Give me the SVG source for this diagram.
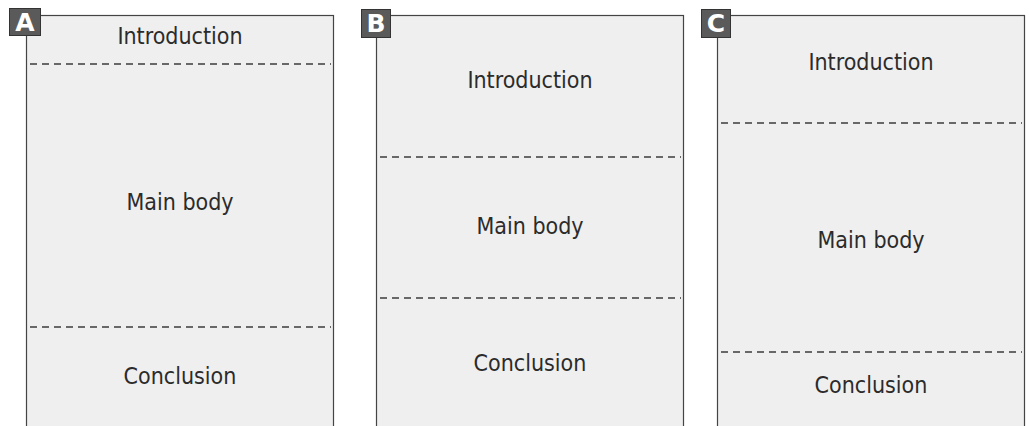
<svg xmlns="http://www.w3.org/2000/svg" width="1029" height="426" viewBox="0 0 1029 426">
<style>
.box{fill:#efefef;stroke:#444444;stroke-width:1.2}
.dash{stroke:#3c3c3c;stroke-width:1.6;stroke-dasharray:7 5;fill:none}
.lbl{font-family:"DejaVu Sans Condensed","Liberation Sans Narrow","Liberation Sans",sans-serif;font-stretch:condensed;font-size:23px;fill:#2b2b2b;text-anchor:middle}
.badge{fill:#5a5a5a;stroke:#333333;stroke-width:1}
.bl{font-family:"DejaVu Sans","Liberation Sans",sans-serif;font-weight:bold;font-size:25px;fill:#ffffff;text-anchor:middle}
</style>
<rect width="1029" height="426" fill="#ffffff"/>
<g id="panelA">
<rect class="box" x="26.5" y="15.5" width="307" height="420"/>
<rect class="badge" x="9.5" y="8.5" width="31" height="27"/>
<text class="bl" x="25" y="31">A</text>
<text class="lbl" x="180" y="44">Introduction</text>
<text class="lbl" x="180" y="210">Main body</text>
<text class="lbl" x="180" y="384">Conclusion</text>
</g>
<g id="panelB">
<rect class="box" x="376.5" y="15.5" width="307" height="420"/>
<rect class="badge" x="361.5" y="9.5" width="29" height="28"/>
<text class="bl" x="376" y="32">B</text>
<text class="lbl" x="530" y="88">Introduction</text>
<text class="lbl" x="530" y="234">Main body</text>
<text class="lbl" x="530" y="371">Conclusion</text>
</g>
<g id="panelC">
<rect class="box" x="717.5" y="15.5" width="307" height="420"/>
<rect class="badge" x="701.5" y="9.5" width="29" height="28"/>
<text class="bl" x="716" y="32">C</text>
<text class="lbl" x="871" y="70">Introduction</text>
<text class="lbl" x="871" y="248">Main body</text>
<text class="lbl" x="871" y="393">Conclusion</text>
</g>
<g id="connectors">
<line class="dash" x1="30" y1="64" x2="331" y2="64"/>
<line class="dash" x1="30" y1="327" x2="331" y2="327"/>
<line class="dash" x1="380" y1="157" x2="681" y2="157"/>
<line class="dash" x1="380" y1="298" x2="681" y2="298"/>
<line class="dash" x1="721" y1="123" x2="1022" y2="123"/>
<line class="dash" x1="721" y1="352" x2="1022" y2="352"/>
</g>
</svg>
